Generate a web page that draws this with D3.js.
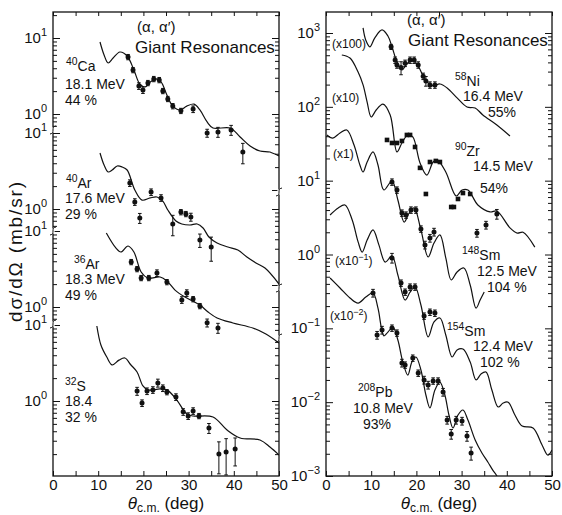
<!DOCTYPE html>
<html><head><meta charset="utf-8">
<script src="https://cdn.jsdelivr.net/npm/d3@7"></script>
<style>
body{margin:0;background:#fff;}
svg text{font-family:"Liberation Sans",Arial,sans-serif;fill:#111;}
</style></head><body>
<svg id="chart" width="562" height="515"></svg>
<script>
// ---------- data: angle (deg), cross section (mb/sr), relative error ----------
// left panel
const caCurve = [[10.4,8.86],[11.3,5.98],[12.2,4.69],[13.3,5.46],[14.8,6.54],[16.4,5.80],[17.9,3.79],[19.2,2.48],[20.4,2.27],[21.5,2.64],[22.8,2.89],[23.9,2.64],[25.2,1.78],[26.5,1.27],[28.1,1.13],[29.6,1.27],[31.2,1.35],[32.5,1.13],[34.1,0.785],[35.4,0.654],[39.2,0.654],[41.4,0.498],[43.6,0.379],[45.8,0.326],[48.0,0.316],[50.0,0.28]];
const caData = [[16.6,5.62,0.08],[17.7,3.79,0.08],[19.0,2.34,0.1],[19.9,2.07,0.1],[21.0,2.56,0.08],[22.3,2.89,0.08],[23.5,2.80,0.08],[24.3,2.01,0.08],[25.4,1.58,0.08],[26.5,1.27,0.08],[28.3,1.10,0.08],[31.0,1.16,0.1],[34.1,0.562,0.12],[36.5,0.58,0.15],[39.4,0.616,0.15],[42.0,0.316,0.3]];

const ar40Curve = [[10.4,5.46],[11.3,3.79],[12.2,3.07],[13.1,3.26],[14.2,3.68],[15.3,3.57],[16.4,3.26],[18.1,1.78],[19.7,1.31],[21.5,1.40],[23.0,1.44],[24.3,1.27],[25.4,0.97],[27.2,0.695],[28.5,0.635],[30.3,0.616],[31.9,0.635],[33.2,0.562],[34.5,0.428],[36.3,0.357],[38.7,0.316],[40.9,0.289],[42.9,0.233],[44.9,0.195],[46.9,0.167],[50.0,0.103]];
const ar40Data = [[17.0,2.20,0.1],[18.1,1.24,0.1],[19.2,0.76,0.15],[21.7,1.67,0.1],[23.9,1.40,0.1],[26.5,0.635,0.3],[28.3,0.91,0.08],[29.4,0.86,0.08],[30.5,0.785,0.12],[32.5,0.39,0.2],[35.0,0.316,0.35]];

const ar36Curve = [[11.8,9.4],[13.9,5.98],[15.0,5.29],[16.6,6.35],[17.9,5.29],[19.5,2.89],[21.0,2.41],[23.7,2.48],[25.2,2.20],[27.0,1.67],[29.2,1.35],[32.5,1.06],[34.3,0.86],[36.3,0.717],[39.8,0.616],[44.2,0.529],[47.1,0.441],[50.0,0.336]];
const ar36Data = [[17.3,3.91,0.08],[18.6,3.16,0.08],[19.5,2.41,0.08],[21.2,2.41,0.08],[23.0,2.80,0.1],[25.2,2.13,0.08],[28.5,1.24,0.1],[29.6,1.53,0.1],[31.0,1.27,0.08],[32.5,1.03,0.08],[34.1,0.62,0.12],[36.5,0.53,0.15]];

const sCurve = [[9.7,9.7],[10.6,5.46],[11.9,3.79],[13.1,2.98],[14.6,3.45],[15.9,3.68],[17.2,3.0],[18.6,2.41],[19.9,1.58],[21.0,1.40],[23.7,1.44],[25.2,1.40],[27.4,1.03],[29.6,0.674],[31.0,0.635],[35.4,0.616],[38.5,0.415],[41.4,0.326],[45.8,0.307],[48.0,0.248],[50.0,0.195]];
const sData = [[18.6,1.35,0.12],[19.7,0.94,0.1],[20.8,1.35,0.1],[22.1,1.40,0.1],[23.2,1.73,0.12],[24.3,1.48,0.1],[25.2,1.31,0.08],[27.2,1.13,0.1],[28.8,0.72,0.1],[29.9,0.635,0.1],[31.0,0.74,0.1],[32.3,0.635,0.08],[34.5,0.44,0.15],[36.7,0.2,0.45],[38.3,0.213,0.5],[40.3,0.233,0.4]];

// right panel (plotted with the display factors below)
const niCurve = [[8.2,11.7],[8.8,8.0],[9.7,6.5],[10.8,8.6],[12.4,11.0],[13.7,9.1],[14.6,6.5],[15.7,4.05],[16.8,3.16],[17.9,3.80],[19.2,4.31],[20.4,3.57],[21.5,2.62],[22.6,2.10],[23.7,1.92],[25.2,2.04],[26.8,1.80],[29.0,1.32],[31.2,0.995],[33.0,0.964],[34.7,0.776],[37.8,0.568],[40.7,0.403]];
const niData = [[14.4,6.5,0.08],[15.3,4.3,0.1],[15.7,3.7,0.1],[16.6,3.4,0.2],[17.5,3.9,0.1],[18.6,4.3,0.1],[19.5,4.3,0.1],[20.4,3.7,0.1],[21.5,2.6,0.1],[22.1,2.24,0.15],[23.0,1.98,0.1],[24.1,1.98,0.1]];

const zrCurve = [[3.5,50.4],[5.3,45.9],[7.1,29.6],[8.2,19.8],[9.1,11.6],[10.0,7.29],[11.1,9.06],[12.6,10.9],[14.2,7.76],[15.7,2.45],[16.8,3.24],[18.1,4.16],[19.2,3.91],[20.8,1.74],[22.3,1.19],[23.7,1.79],[24.6,1.91],[26.5,1.31],[28.8,0.62],[30.1,0.748],[31.4,0.748],[33.6,0.469],[36.3,0.377],[37.8,0.388],[40.7,0.229],[42.3,0.195],[43.6,0.2],[46.2,0.126]];
const zrData = [[13.5,3.56,0],[14.6,3.24,0],[15.7,3.24,0],[16.8,3.45,0],[17.9,4.16,0],[18.6,4.16,0],[19.7,2.86,0],[20.8,1.49,0],[22.1,0.66,0],[23.0,1.79,0],[24.3,1.85,0],[25.2,1.79,0],[27.7,0.44,0],[28.3,0.44,0],[29.2,0.565,0],[30.3,0.68,0],[31.9,0.66,0],[33.4,0.195,0.12],[35.4,0.251,0.12],[37.8,0.354,0.15]];

const sm148Curve = [[0.2,41.6],[1.5,37.8],[3.1,44.2],[4.6,48.6],[6.2,30.4],[7.5,16.3],[8.2,13.1],[9.1,17.9],[10.4,24.5],[11.5,16.3],[12.8,7.48],[14.6,9.9],[15.9,5.47],[17.3,2.75],[18.4,3.65],[19.5,4.27],[21.0,2.15],[22.6,0.925],[23.9,1.43],[25.2,1.84],[26.5,0.90],[27.7,0.452],[29.0,0.58],[30.5,0.656],[31.9,0.386],[33.2,0.188],[34.1,0.242],[35.0,0.31]];
const sm148Data = [[14.6,9.6,0.1],[15.7,7.48,0.1],[16.8,3.65,0.1],[17.7,3.43,0.1],[18.8,4.01,0.1],[19.9,4.01,0.1],[21.0,2.22,0.1],[21.9,1.35,0.12],[23.0,1.67,0.12],[23.9,2.02,0.12]];

const sm154Curve = [[0.9,34.3],[2.7,42.7],[4.2,46.9],[5.8,29.3],[7.1,14.8],[8.0,10.8],[9.1,15.7],[10.4,21.5],[11.7,13.5],[13.1,7.9],[14.6,9.55],[15.9,5.28],[17.5,2.42],[18.6,3.1],[19.7,3.63],[21.0,2.07],[22.6,0.764],[23.9,1.22],[25.2,1.38],[26.5,0.813],[27.9,0.409],[29.0,0.51],[30.3,0.525],[31.9,0.35],[33.2,0.2],[34.3,0.241],[35.4,0.256],[36.7,0.146],[38.1,0.086],[39.2,0.0975],[40.3,0.1],[41.8,0.067],[43.4,0.0475],[45.8,0.0447],[47.8,0.0263],[49.1,0.0192],[50.0,0.0225]];
const sm154Data = [[14.6,9.0,0.15],[16.6,4.11,0.1],[17.5,3.1,0.1],[18.6,3.63,0.1],[19.7,3.63,0.1],[21.7,1.47,0.1],[23.0,1.66,0.1],[24.1,1.61,0.1]];

const pbCurve = [[0.9,48.1],[3.1,35.2],[5.3,25.8],[7.1,22.0],[8.8,26.5],[10.4,30.1],[11.5,18.8],[12.8,7.9],[13.7,8.9],[14.8,10.4],[15.9,6.95],[17.0,3.5],[18.1,2.33],[19.0,3.5],[19.9,4.09],[21.0,2.73],[22.1,1.25],[23.0,0.834],[24.1,1.46],[25.2,1.87],[26.3,1.25],[27.2,0.67],[28.1,0.447],[29.2,0.67],[30.3,0.783],[31.4,0.573],[33.0,0.308],[34.5,0.205],[35.8,0.155],[36.9,0.12],[37.8,0.1],[38.5,0.065]];
const pbData = [[10.4,30.1,0.12],[11.3,8.1,0.12],[12.4,9.5,0.12],[14.6,10.1,0.1],[15.7,8.65,0.1],[16.8,3.4,0.12],[17.5,3.19,0.1],[19.2,3.96,0.1],[20.4,2.48,0.1],[21.7,2.0,0.12],[22.6,1.71,0.12],[23.7,1.94,0.1],[24.8,1.94,0.1],[25.9,1.37,0.12],[26.8,0.573,0.12],[27.7,0.371,0.15],[28.8,0.573,0.12],[30.1,0.556,0.12],[31.2,0.348,0.15],[32.1,0.205,0.2]];

const factors = {ni:100, zr:10, sm148:1, sm154:0.1, pb:0.01};
const xTicks = [0,5,10,15,20,25,30,35,40,45,50];

// ---------- layout ----------
const TOP = 12, BOT = 476;
const LEFT = {x0:53, x1:279}, RIGHT = {x0:326, x1:552};
const LBL = 14; // nucleus label font size
const svg = d3.select("#chart");

const xL = d3.scaleLinear().domain([0,50]).range([LEFT.x0, LEFT.x1]);
const xR = d3.scaleLinear().domain([0,50]).range([RIGHT.x0, RIGHT.x1]);
const DEC = 76;
const subScale = y0 => d3.scaleLog().domain([1,10]).range([y0, y0 - DEC]);
const yCa = subScale(114), yAr40 = subScale(209), yAr36 = subScale(307), yS = subScale(401);
const yR = d3.scaleLog().domain([1e-3,1e3]).range([BOT, 33]);

const defs = svg.append("defs");
[["clipL",LEFT],["clipR",RIGHT]].forEach(([id,p])=>{
  defs.append("clipPath").attr("id",id).append("rect")
    .attr("x",p.x0).attr("y",TOP).attr("width",p.x1-p.x0).attr("height",BOT-TOP);
});

// log tick values whose position lies between yTop and yBot
function logTickValues(s, yTop, yBot){
  const lo = s.invert(yBot), hi = s.invert(yTop), out = [];
  for(let e=Math.floor(Math.log10(lo))-1; e<=Math.ceil(Math.log10(hi)); e++){
    for(let m=1;m<10;m++){
      const v = m*Math.pow(10,e), y = s(v);
      if(y>=yTop-0.5 && y<=yBot+0.5) out.push(v);
    }
  }
  return out;
}
const isMajor = v => Math.abs(Math.log10(v)-Math.round(Math.log10(v)))<1e-6;

function yTicks(g, s, x, yTop, yBot, side){
  const vals = logTickValues(s, yTop, yBot);
  const mk = side==="left" ? d3.axisLeft : d3.axisRight;
  [[vals.filter(isMajor),7],[vals.filter(v=>!isMajor(v)),4]].forEach(([tv,len])=>{
    g.append("g").attr("transform",`translate(${x},0)`)
      .call(mk(s).tickValues(tv).tickSize(-len).tickFormat(""))
      .call(a=>a.select(".domain").remove())
      .call(a=>a.selectAll("line").attr("stroke","#111").attr("stroke-width",1));
  });
  return vals.filter(isMajor);
}

function powLabel(g, x, y, exp){
  const t = g.append("text").attr("x",x).attr("y",y+5).attr("text-anchor","end").style("font-size","15px");
  t.append("tspan").text("10");
  t.append("tspan").text(exp).style("font-size","11px").attr("dy",-7);
}
const expText = v => { const e = Math.round(Math.log10(v)); return e<0 ? "\u2212"+(-e) : String(e); };

function breakMark(g, x, y){
  g.append("rect").attr("x",x-1.6).attr("y",y-2.5).attr("width",3.2).attr("height",5).attr("fill","#fff");
  g.append("path").attr("d",`M${x-3},${y+4} C${x+3},${y+3} ${x-3},${y-3} ${x+3},${y-4}`)
    .attr("fill","none").attr("stroke","#111").attr("stroke-width",1);
}

function xAxes(g, x){
  g.append("g").attr("transform",`translate(0,${BOT})`)
    .call(d3.axisBottom(x).tickValues(xTicks).tickSize(-5).tickPadding(3).tickFormat(d=>d%10?"":d))
    .call(a=>a.select(".domain").remove())
    .call(a=>a.selectAll("line").attr("stroke","#111"))
    .call(a=>a.selectAll("text").style("font-size","15px").attr("font-family",null).attr("fill","#111"));
  g.append("g").attr("transform",`translate(0,${TOP})`)
    .call(d3.axisTop(x).tickValues(xTicks).tickSize(-4).tickFormat(""))
    .call(a=>a.select(".domain").remove())
    .call(a=>a.selectAll("line").attr("stroke","#111"));
}

function drawCurve(g, x, y, pts, f){
  g.append("path").datum(pts)
    .attr("d", d3.line().x(d=>x(d[0])).y(d=>y(d[1]*f)).curve(d3.curveCatmullRom.alpha(0.5)))
    .attr("fill","none").attr("stroke","#111").attr("stroke-width",1.2);
}

function drawPoints(g, x, y, pts, f, square){
  const sel = g.append("g").selectAll("g").data(pts).join("g");
  sel.filter(d=>d[2]>0).each(function(d){
    const gg = d3.select(this), cx = x(d[0]);
    const ya = y(d[1]*(1+d[2])*f), yb = y(d[1]*(1-d[2])*f);
    gg.append("line").attr("x1",cx).attr("x2",cx).attr("y1",ya).attr("y2",yb).attr("stroke","#111").attr("stroke-width",1);
    [ya,yb].forEach(yy=>gg.append("line").attr("x1",cx-1.8).attr("x2",cx+1.8).attr("y1",yy).attr("y2",yy).attr("stroke","#111").attr("stroke-width",1));
  });
  if(square){
    sel.append("rect").attr("x",d=>x(d[0])-2.3).attr("y",d=>y(d[1]*f)-2.3).attr("width",4.6).attr("height",4.6).attr("fill","#111");
  } else {
    sel.append("circle").attr("cx",d=>x(d[0])).attr("cy",d=>y(d[1]*f)).attr("r",2.5).attr("fill","#111");
  }
}

function supLabel(g, x, y, sup, main, fs){
  const t = g.append("text").attr("x",x).attr("y",y).style("font-size",fs+"px");
  t.append("tspan").text(sup).style("font-size",(fs*0.74)+"px").attr("dy",-fs*0.42);
  t.append("tspan").text(main).attr("dy",fs*0.42);
}
function txt(g, x, y, s, fs, anchor){
  return g.append("text").attr("x",x).attr("y",y).attr("text-anchor",anchor||"start").style("font-size",fs+"px").text(s);
}

// ---------- left panel ----------
const gL = svg.append("g");
const plotL = gL.append("g").attr("clip-path","url(#clipL)");
drawCurve(plotL, xL, yCa, caCurve, 1);
drawCurve(plotL, xL, yAr40, ar40Curve, 1);
drawCurve(plotL, xL, yAr36, ar36Curve, 1);
drawCurve(plotL, xL, yS, sCurve, 1);
drawPoints(plotL, xL, yCa, caData, 1, false);
drawPoints(plotL, xL, yAr40, ar40Data, 1, false);
drawPoints(plotL, xL, yAr36, ar36Data, 1, false);
drawPoints(plotL, xL, yS, sData, 1, false);

gL.append("rect").attr("x",LEFT.x0).attr("y",TOP).attr("width",LEFT.x1-LEFT.x0).attr("height",BOT-TOP)
  .attr("fill","none").attr("stroke","#111").attr("stroke-width",1.3);

const leftSegs = [[yCa,TOP,126],[yAr40,130,226],[yAr36,231,320],[yS,324,BOT]];
const rightSegs = [[yCa,TOP,190],[yAr40,194,286],[yAr36,290,336],[yS,340,BOT]];
leftSegs.forEach(([s,a,b])=>{
  const majors = yTicks(gL, s, LEFT.x0, a, b, "left");
  majors.forEach(v=>powLabel(gL, 47, s(v), expText(v)));
});
rightSegs.forEach(([s,a,b])=>yTicks(gL, s, LEFT.x1, a, b, "right"));
[130,231,324].forEach(y=>breakMark(gL, LEFT.x0, y));
[192,288,338].forEach(y=>breakMark(gL, LEFT.x1, y));
xAxes(gL, xL);

txt(gL, 137, 32, "(\u03b1, \u03b1\u2032)", 15);
txt(gL, 135, 53, "Giant Resonances", 17);
supLabel(gL, 66, 71, "40", "Ca", LBL); txt(gL, 65, 89, "18.1 MeV", LBL); txt(gL, 65, 105, "44 %", LBL);
supLabel(gL, 66, 188, "40", "Ar", LBL); txt(gL, 65, 203, "17.6 MeV", LBL); txt(gL, 65, 219, "29 %", LBL);
supLabel(gL, 74, 269, "36", "Ar", LBL); txt(gL, 65, 284, "18.3 MeV", LBL); txt(gL, 65, 300, "49 %", LBL);
supLabel(gL, 65, 391, "32", "S", LBL); txt(gL, 65, 406, "18.4", LBL); txt(gL, 65, 422, "32 %", LBL);

// ---------- right panel ----------
const gR = svg.append("g");
const plotR = gR.append("g").attr("clip-path","url(#clipR)");
drawCurve(plotR, xR, yR, niCurve, factors.ni);
drawCurve(plotR, xR, yR, zrCurve, factors.zr);
drawCurve(plotR, xR, yR, sm148Curve, factors.sm148);
drawCurve(plotR, xR, yR, sm154Curve, factors.sm154);
drawCurve(plotR, xR, yR, pbCurve, factors.pb);
drawPoints(plotR, xR, yR, niData, factors.ni, false);
drawPoints(plotR, xR, yR, zrData.filter(d=>d[2]===0), factors.zr, true);
drawPoints(plotR, xR, yR, zrData.filter(d=>d[2]>0), factors.zr, false);
drawPoints(plotR, xR, yR, sm148Data, factors.sm148, false);
drawPoints(plotR, xR, yR, sm154Data, factors.sm154, false);
drawPoints(plotR, xR, yR, pbData, factors.pb, false);

gR.append("rect").attr("x",RIGHT.x0).attr("y",TOP).attr("width",RIGHT.x1-RIGHT.x0).attr("height",BOT-TOP)
  .attr("fill","none").attr("stroke","#111").attr("stroke-width",1.3);
yTicks(gR, yR, RIGHT.x0, TOP, BOT, "left").forEach(v=>powLabel(gR, 320, yR(v), expText(v)));
yTicks(gR, yR, RIGHT.x1, TOP, BOT, "right");
xAxes(gR, xR);

txt(gR, 407, 25, "(\u03b1, \u03b1\u2032)", 15);
txt(gR, 408, 46, "Giant Resonances", 17);
txt(gR, 332, 48, "(x100)", 12);
txt(gR, 332, 102, "(x10)", 12);
txt(gR, 333, 158, "(x1)", 12);
const f1 = txt(gR, 335, 265, "(x10", 12); f1.append("tspan").text("\u22121").style("font-size","9px").attr("dy",-5); f1.append("tspan").text(")").attr("dy",5);
const f2 = txt(gR, 330, 320, "(x10", 12); f2.append("tspan").text("\u22122").style("font-size","9px").attr("dy",-5); f2.append("tspan").text(")").attr("dy",5);

supLabel(gR, 455, 86, "58", "Ni", LBL); txt(gR, 463, 101, "16.4 MeV", LBL); txt(gR, 488, 117, "55%", LBL);
supLabel(gR, 455, 156, "90", "Zr", LBL); txt(gR, 473, 171, "14.5 MeV", LBL); txt(gR, 480, 193, "54%", LBL);
supLabel(gR, 462, 260, "148", "Sm", LBL); txt(gR, 477, 276, "12.5 MeV", LBL); txt(gR, 487, 292, "104 %", LBL);
supLabel(gR, 447, 336, "154", "Sm", LBL); txt(gR, 473, 351, "12.4 MeV", LBL); txt(gR, 480, 367, "102 %", LBL);
supLabel(gR, 358, 397, "208", "Pb", LBL); txt(gR, 353, 413, "10.8 MeV", LBL); txt(gR, 363, 429, "93%", LBL);

// ---------- axis titles ----------
svg.append("text").attr("transform","translate(22,252) rotate(-90)").attr("text-anchor","middle")
  .attr("textLength",140).attr("lengthAdjust","spacing")
  .style("font-size","19px").text("d\u03c3/d\u03a9 (mb/sr)");
function thetaLabel(cx){
  const t = svg.append("text").attr("x",cx).attr("y",509).attr("text-anchor","middle").style("font-size","17px");
  t.append("tspan").text("\u03b8").style("font-style","italic");
  t.append("tspan").text("c.m.").style("font-size","12px").attr("dy",3);
  t.append("tspan").text(" (deg)").attr("dy",-3);
}
thetaLabel((LEFT.x0+LEFT.x1)/2);
thetaLabel((RIGHT.x0+RIGHT.x1)/2);
</script></body></html>
